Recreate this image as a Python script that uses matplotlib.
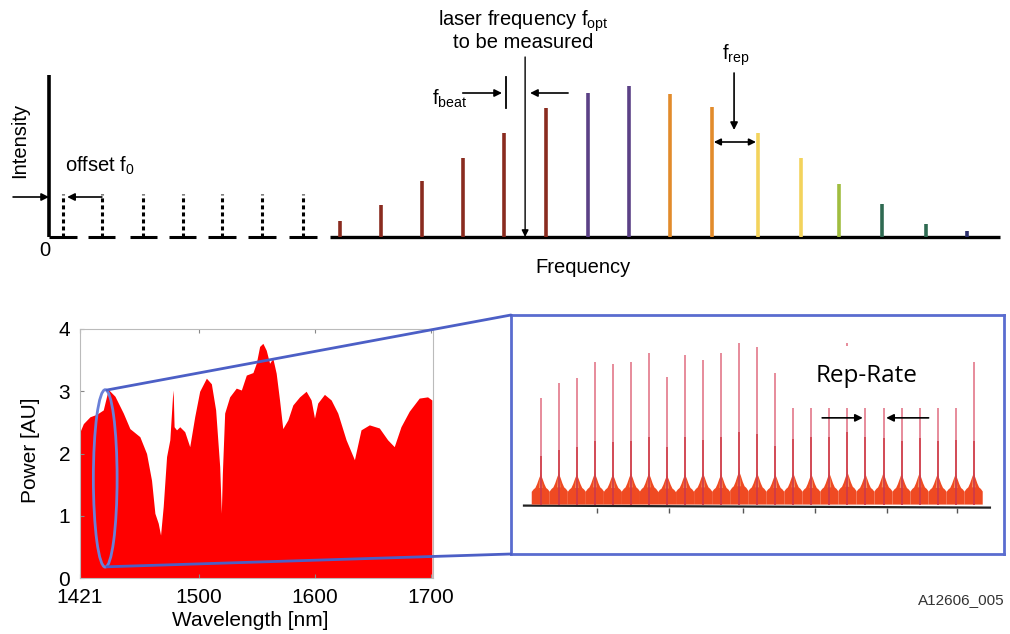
import matplotlib
matplotlib.use('Agg')
import matplotlib.pyplot as plt
from matplotlib.patches import Ellipse, ConnectionPatch, Rectangle

plt.rcParams['font.family'] = ['Liberation Sans', 'DejaVu Sans']
plt.rcParams['mathtext.fontset'] = 'custom'
plt.rcParams['mathtext.rm'] = 'Liberation Sans'
plt.rcParams['mathtext.it'] = 'Liberation Sans'
plt.rcParams['mathtext.default'] = 'rm'

# ---------------- data ----------------
# top panel: frequency comb (frequency in units of ~f_rep, intensity in a.u.)
offset_freq = [0.34, 1.28, 2.28, 3.24, 4.19, 5.16, 6.15]
offset_int = [43, 43, 43, 43, 43, 43, 43]
comb_freq = [7.05, 8.04, 9.03, 10.02, 11.02, 12.03, 13.05, 14.04, 15.04,
             16.05, 17.17, 18.21, 19.13, 20.17, 21.23, 22.23]
comb_int = [16, 32, 56, 79, 104, 129, 144, 151, 143, 130, 104, 79, 53, 33, 13, 6]
comb_colors = ['#8a2b1f'] * 6 + ['#5b4186'] * 2 + ['#e28b2b'] * 2 + \
              ['#f3d35c'] * 2 + ['#a0bd3f'] + ['#2f6a52'] * 2 + ['#2b2f6b']
f_opt = 11.53

# bottom-left: spectrum
wavelength = [1397, 1399.9, 1405.6, 1411.4, 1417.1, 1421.4, 1427.2, 1434.4, 1440.1,
              1448.7, 1454.5, 1458.8, 1461.7, 1464.6, 1466.6, 1468.9, 1471.8, 1474.6,
              1476.9, 1477.5, 1478.3, 1480.4, 1483.2, 1487.5, 1491.8, 1496.1, 1500.4,
              1506.2, 1510.5, 1514.2, 1517.7, 1519.1, 1520.0, 1522.0, 1526.3, 1532.0,
              1536.4, 1540.7, 1546.4, 1549.3, 1552.2, 1555.0, 1557.9, 1560.8, 1563.6,
              1566.5, 1569.4, 1572.2, 1576.6, 1580.9, 1586.7, 1592.4, 1596.7, 1599.6,
              1602.4, 1608.2, 1614.0, 1619.7, 1626.9, 1634.1, 1639.8, 1647.0, 1655.6,
              1662.8, 1668.5, 1674.3, 1681.5, 1690.1, 1697.3, 1701.0]
power = [2.35, 2.48, 2.59, 2.63, 2.70, 3.03, 2.92, 2.65, 2.40,
         2.27, 2.00, 1.57, 1.04, 0.88, 0.69, 1.15, 1.95, 2.22,
         2.91, 3.02, 2.43, 2.38, 2.43, 2.35, 2.11, 2.59, 3.00,
         3.21, 3.12, 2.70, 1.79, 1.04, 1.68, 2.65, 2.91, 3.05,
         3.02, 3.26, 3.30, 3.45, 3.72, 3.77, 3.66, 3.45, 3.53,
         3.29, 2.86, 2.40, 2.54, 2.78, 2.91, 3.00, 2.86, 2.57,
         2.81, 2.95, 2.86, 2.65, 2.22, 1.90, 2.38, 2.46, 2.41,
         2.22, 2.11, 2.43, 2.68, 2.89, 2.91, 2.86]
wl_ticks = [1397, 1500, 1600, 1700]
wl_ticklabels = ['1421', '1500', '1600', '1700']
power_ticks = [0, 1, 2, 3, 4]

# bottom-right: zoomed comb teeth
tooth_idx = list(range(25))
tooth_height = [106, 121, 126, 141, 139, 141, 150, 127, 148, 143, 150, 160, 156, 130,
                145, 148, 150, 160, 150, 146, 140, 146, 140, 142, 141]
pedestal_height = [30, 31, 30, 31, 30, 31, 31, 29, 30, 31, 30, 33, 31, 30,
                   31, 30, 31, 32, 30, 31, 30, 31, 30, 30, 31]
zoom_ticks = [3.1, 7.1, 11.2, 15.2, 19.2, 23.1]

# ---------------- layout helpers ----------------
W, H = 1010, 634
fig = plt.figure(figsize=(W / 100, H / 100), dpi=100)


def rect(l, t, r, b):
    return [l / W, 1 - b / H, (r - l) / W, (b - t) / H]


def fp(x, y):
    return (x / W, 1 - y / H)


FS = 14.5
arrow_kw = dict(arrowstyle='-|>', color='black', lw=1.2, mutation_scale=11,
                shrinkA=0, shrinkB=0)

# ---------------- top panel ----------------
ax = fig.add_axes(rect(49, 75, 1000, 237))
ax.set_xlim(0, 23.03)
ax.set_ylim(0, 162)
ax.axis('off')

ax.plot([0, 0], [0, 162], color='black', lw=2.6, clip_on=False, solid_capstyle='butt')
for i, f in enumerate(offset_freq):
    lo = 0 if i == 0 else f - 0.33
    ax.plot([lo, f + 0.33], [0, 0], color='black', lw=2.2, clip_on=False,
            solid_capstyle='butt')
ax.plot([6.8, 23.03], [0, 0], color='black', lw=2.4, clip_on=False, solid_capstyle='butt')
ax.vlines(offset_freq, 0, offset_int, colors='black', linestyles=(0, (1.3, 1.0)), lw=2.2)
ax.vlines(comb_freq, 0, comb_int, colors=comb_colors, lw=2.6)

# offset arrows
ax.annotate('', xy=(0, 40), xytext=(-0.87, 40), arrowprops=arrow_kw, annotation_clip=False)
ax.annotate('', xy=(offset_freq[0] + 0.1, 40), xytext=(offset_freq[1], 40),
            arrowprops=arrow_kw, annotation_clip=False)
# laser frequency arrow
ax.annotate('', xy=(f_opt, 0), xytext=(f_opt, 180),
            arrowprops=dict(arrowstyle='-|>', color='black', lw=1.0, mutation_scale=10,
                            shrinkA=0, shrinkB=0), annotation_clip=False)
# f_beat
ax.plot([comb_freq[4] + 0.05] * 2, [129, 160], color='black', lw=1.3, clip_on=False)
ax.annotate('', xy=(comb_freq[4] - 0.05, 144), xytext=(comb_freq[4] - 1.0, 144),
            arrowprops=arrow_kw, annotation_clip=False)
ax.annotate('', xy=(f_opt + 0.12, 144), xytext=(f_opt + 1.04, 144),
            arrowprops=arrow_kw, annotation_clip=False)
# f_rep
ax.annotate('', xy=(16.59, 107), xytext=(16.59, 164), arrowprops=arrow_kw,
            annotation_clip=False)
ax.annotate('', xy=(comb_freq[10] - 0.05, 95), xytext=(comb_freq[9] + 0.05, 95),
            arrowprops=dict(arrowstyle='<|-|>', color='black', lw=1.2, mutation_scale=10,
                            shrinkA=0, shrinkB=0), annotation_clip=False)

fig.text(*fp(20, 140), 'Intensity', rotation=90, ha='center', va='center', fontsize=FS)
fig.text(*fp(65, 166), 'offset f$_0$', ha='left', va='center', fontsize=FS)
fig.text(*fp(45, 250), '0', ha='center', va='center', fontsize=FS)
fig.text(*fp(583, 267), 'Frequency', ha='center', va='center', fontsize=FS)
fig.text(*fp(523, 21), 'laser frequency f$_{opt}$', ha='center', va='center', fontsize=FS)
fig.text(*fp(523, 43), 'to be measured', ha='center', va='center', fontsize=FS)
fig.text(*fp(432, 99), 'f$_{beat}$', ha='left', va='center', fontsize=FS)
fig.text(*fp(722, 55), 'f$_{rep}$', ha='left', va='center', fontsize=FS)

# ---------------- bottom-left spectrum ----------------
axs = fig.add_axes(rect(80, 329, 433, 578))
axs.fill_between(wavelength, 0, power, color='#ff0000', lw=0)
axs.set_xlim(1397, 1702)
axs.set_ylim(0, 4)
axs.set_xticks(wl_ticks)
axs.set_xticklabels(wl_ticklabels)
axs.set_yticks(power_ticks)
axs.tick_params(direction='in', length=3, color='#888888', labelsize=15, top=True,
                right=False)
axs.tick_params(axis='x', pad=7)
axs.tick_params(axis='y', pad=7)
for s in axs.spines.values():
    s.set_color('#bbbbbb')
    s.set_linewidth(0.8)
fig.text(*fp(30, 450), 'Power [AU]', rotation=90, ha='center', va='center', fontsize=15)
fig.text(*fp(250, 621), 'Wavelength [nm]', ha='center', va='center', fontsize=15)

ell = Ellipse((1418.8, 1.6), width=20.5, height=2.85, fill=False, edgecolor='#6a80d8',
              lw=2, clip_on=False)
axs.add_patch(ell)

# ---------------- bottom-right zoom ----------------
axz = fig.add_axes(rect(511, 315, 1004, 554))
axz.set_xlim(-1.65, 25.68)
axz.set_ylim(-49, 188)
axz.set_xticks([])
axz.set_yticks([])
for s in axz.spines.values():
    s.set_color('#5a6ccf')
    s.set_linewidth(2)

axz.plot([-0.93, 24.9], [-1, -3], color='#222222', lw=1.6, zorder=1)
axz.vlines(zoom_ticks, -8, -3, colors='#555555', lw=1, zorder=1)
shape_dx = [-0.5, -0.4, -0.3, -0.2, -0.1, 0, 0.1, 0.2, 0.3, 0.4, 0.5]
shape_fy = [0.42, 0.5, 0.55, 0.68, 0.85, 1.0, 0.85, 0.68, 0.55, 0.5, 0.42]
for i, ph in zip(tooth_idx, pedestal_height):
    xs = [i - 0.5] + [i + d for d in shape_dx] + [i + 0.5]
    ys = [0] + [ph * f for f in shape_fy] + [0]
    axz.fill(xs, ys, color='#ef4a22', lw=0, zorder=2)
    axz.fill([i - 0.1, i, i + 0.1], [ph * 0.55, ph + 5, ph * 0.55], color='#f7905e',
             lw=0, zorder=2)
axz.vlines(tooth_idx, 0, [h * 0.45 for h in tooth_height], colors='#cf3a48', lw=1.3,
           zorder=3)
axz.vlines(tooth_idx, [h * 0.45 for h in tooth_height], tooth_height, colors='#e3788a',
           lw=1.2, zorder=3)

fig.add_artist(Rectangle(fp(792, 408), 168 / W, 62 / H, transform=fig.transFigure,
                         facecolor='white', edgecolor='none', zorder=5))
fig.text(*fp(867, 376), 'Rep-Rate', ha='center', va='center', fontsize=17.5,
         family=['Open Sans', 'DejaVu Sans'], zorder=6)
axz.annotate('', xy=(18 - 0.15, 86), xytext=(15.6, 86), arrowprops=arrow_kw, zorder=6)
axz.annotate('', xy=(19 + 0.15, 86), xytext=(21.5, 86), arrowprops=arrow_kw, zorder=6)

fig.text(*fp(1005, 600), 'A12606_005', ha='right', va='center', fontsize=11,
         color='#333333')

# connectors from ellipse to zoom box
for yA, yB in [(3.02, 1), (0.18, 0)]:
    cp = ConnectionPatch(xyA=(1420.3, yA), coordsA=axs.transData, xyB=(0, yB),
                         coordsB=axz.transAxes, color='#4c5fc6', lw=2)
    fig.add_artist(cp)

fig.savefig('out.png', dpi=100)
